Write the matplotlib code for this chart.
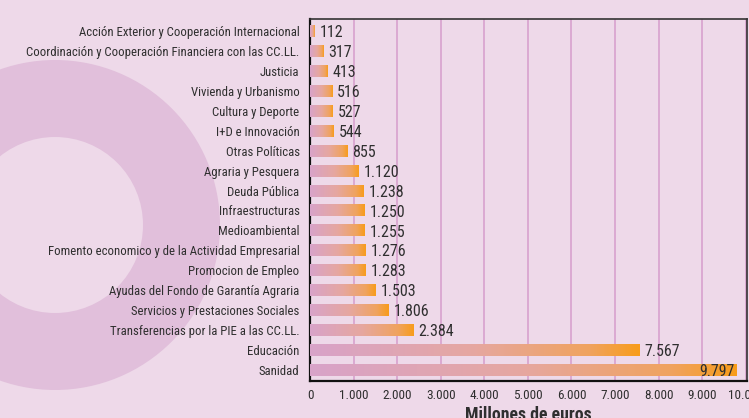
import numpy as np
import matplotlib
matplotlib.use("Agg")
import matplotlib.pyplot as plt
from matplotlib.colors import LinearSegmentedColormap
from matplotlib.patches import Circle

categories = [
    "Acción Exterior y Cooperación Internacional",
    "Coordinación y Cooperación Financiera con las CC.LL.",
    "Justicia",
    "Vivienda y Urbanismo",
    "Cultura y Deporte",
    "I+D e Innovación",
    "Otras Políticas",
    "Agraria y Pesquera",
    "Deuda Pública",
    "Infraestructuras",
    "Medioambiental",
    "Fomento economico y de la Actividad Empresarial",
    "Promocion de Empleo",
    "Ayudas del Fondo de Garantía Agraria",
    "Servicios y Prestaciones Sociales",
    "Transferencias por la PIE a las CC.LL.",
    "Educación",
    "Sanidad",
]
values = [112, 317, 413, 516, 527, 544, 855, 1120, 1238, 1250, 1255,
          1276, 1283, 1503, 1806, 2384, 7567, 9797]
xticks = list(range(0, 10001, 1000))
xticklabels = ["0"] + [f"{t // 1000}.000" for t in xticks[1:]]

plt.rcParams['font.family'] = ['Roboto Condensed', 'DejaVu Sans']

bg = "#EED9E9"
ring = "#E1BFDB"
txt = "#2f2f2f"

fig = plt.figure(figsize=(7.49, 4.18), dpi=100, facecolor=bg)

# decorative ring in the background
deco = fig.add_axes([0, 0, 1, 1])
deco.set_xlim(0, 749)
deco.set_ylim(418, 0)
deco.axis("off")
deco.add_patch(Circle((55, 225), 165, color=ring, lw=0))
deco.add_patch(Circle((55, 225), 88, color=bg, lw=0))

ax = fig.add_axes([310 / 749, 1 - 381 / 418, 437 / 749, 362 / 418])
ax.set_facecolor(bg)

cmap = LinearSegmentedColormap.from_list(
    "grad", [(0, "#D8A3C9"), (0.5, "#E6A7A0"), (0.85, "#F0A35E"), (1, "#F89C1A")])
grad = np.linspace(0, 1, 256).reshape(1, -1)

h = 0.6
for i, v in enumerate(values):
    ax.imshow(grad, cmap=cmap, aspect="auto", extent=(0, v, i + h / 2, i - h / 2),
              zorder=3, interpolation="bilinear")
    lab = f"{v:,}".replace(",", ".")
    if v > 9000:
        ax.text(v - 50, i + 0.08, lab, ha="right", va="center", fontsize=11.5, color=txt, zorder=4)
    else:
        ax.text(v + 110, i + 0.08, lab, ha="left", va="center", fontsize=11.5, color=txt, zorder=4)

ax.set_xlim(0, 10030)
ax.set_ylim(len(values) - 1 + 0.55, -0.6)
ax.set_yticks(range(len(categories)))
ax.set_yticklabels(categories, fontsize=9.2, color=txt)
ax.set_xticks(xticks)
ax.set_xticklabels(xticklabels, fontsize=9.5, color=txt)
ax.tick_params(length=0, pad=7.5)
ax.tick_params(axis="x", pad=6)
ax.grid(axis="x", color="#D9A6D0", lw=1.3, zorder=1)
ax.set_axisbelow(True)
for s in ["left", "bottom"]:
    ax.spines[s].set_color("#111111")
    ax.spines[s].set_linewidth(1.6)
for s in ["top", "right"]:
    ax.spines[s].set_color("#333333")
    ax.spines[s].set_linewidth(1.2)
ax.set_xlabel("Millones de euros", fontsize=12.8, fontweight="bold", color=txt, labelpad=3)

fig.savefig("out.png", dpi=100, facecolor=bg)
